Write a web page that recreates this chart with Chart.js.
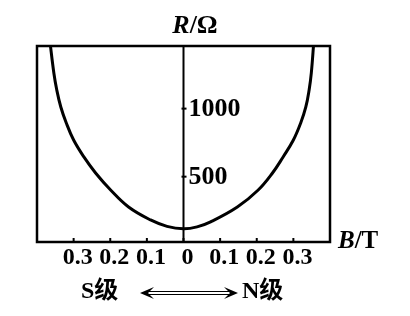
<!DOCTYPE html>
<html lang="zh">
<head>
    <meta charset="UTF-8">
    <title>R-B curve</title>
    <script src="https://cdn.jsdelivr.net/npm/chart.js"></script>
    <style>
        html, body { margin: 0; padding: 0; background: #fff; }
        #wrap { width: 410px; height: 316px; }
    </style>
</head>
<body>
    <div id="wrap"><canvas id="rbChart"></canvas></div>

    <script>
        // magnetic field B (T), negative = S side, positive = N side
        const bValues = [-0.365, -0.354, -0.346, -0.335, -0.320, -0.300, -0.272, -0.240, -0.199, -0.150, -0.090, -0.045, 0,
                         0.037, 0.074, 0.147, 0.204, 0.243, 0.272, 0.300, 0.320, 0.334, 0.343, 0.349, 0.356];
        // resistance R (ohm)
        const rValues = [1500, 1262, 1137, 1012, 894, 769, 645, 527, 402, 277, 182, 135, 117,
                         131, 168, 277, 402, 527, 645, 769, 894, 1012, 1137, 1262, 1500];

        const xTickValues = [-0.3, -0.2, -0.1, 0, 0.1, 0.2, 0.3];
        const xTickLabels = ['0.3', '0.2', '0.1', '0', '0.1', '0.2', '0.3'];
        const yTickValues = [500, 1000];
        const yTickLabels = ['500', '1000'];

        const points = bValues.map((b, i) => ({ x: b, y: rValues[i] }));

        const serifBold = "'Liberation Serif', 'Times New Roman', 'Noto Sans CJK SC', serif";

        // frame, centre axis, ticks and labels
        const framePlugin = {
            id: 'framePlugin',
            afterDraw(chart) {
                const ctx = chart.ctx;
                const a = chart.chartArea;
                const xs = chart.scales.x;
                const ys = chart.scales.y;
                const x0 = xs.getPixelForValue(0);

                ctx.save();
                ctx.strokeStyle = '#000';
                ctx.fillStyle = '#000';

                // box
                ctx.lineWidth = 2.5;
                ctx.strokeRect(a.left, a.top, a.right - a.left, a.bottom - a.top);

                // vertical R axis at B = 0
                ctx.lineWidth = 2;
                ctx.beginPath();
                ctx.moveTo(x0, a.top);
                ctx.lineTo(x0, a.bottom);
                ctx.stroke();

                // x ticks (pointing up from the bottom edge)
                xTickValues.forEach(v => {
                    const px = xs.getPixelForValue(v);
                    ctx.beginPath();
                    ctx.moveTo(px, a.bottom);
                    ctx.lineTo(px, a.bottom - 4);
                    ctx.stroke();
                });

                // x tick labels
                ctx.font = 'bold 24px ' + serifBold;
                ctx.textAlign = 'center';
                ctx.textBaseline = 'middle';
                xTickValues.forEach((v, i) => {
                    ctx.fillText(xTickLabels[i], xs.getPixelForValue(v) + 4, a.bottom + 16);
                });

                // y ticks and labels right of the axis
                ctx.font = 'bold 26px ' + serifBold;
                ctx.textAlign = 'left';
                yTickValues.forEach((v, i) => {
                    const py = ys.getPixelForValue(v);
                    ctx.beginPath();
                    ctx.moveTo(x0 - 2, py);
                    ctx.lineTo(x0 + 3, py);
                    ctx.stroke();
                    ctx.fillText(yTickLabels[i], x0 + 5, py + 1);
                });

                // axis titles
                ctx.font = 'italic bold 26px ' + serifBold;
                let w = ctx.measureText('R').width;
                ctx.font = 'bold 26px ' + serifBold;
                const w2 = ctx.measureText('/Ω').width;
                const sx = 195 - (w + w2) / 2;
                ctx.font = 'italic bold 26px ' + serifBold;
                ctx.fillText('R', sx, 26);
                ctx.font = 'bold 26px ' + serifBold;
                ctx.fillText('/Ω', sx + w, 26);

                ctx.font = 'italic bold 25px ' + serifBold;
                ctx.fillText('B', 338, 242);
                w = ctx.measureText('B').width;
                ctx.font = 'bold 25px ' + serifBold;
                ctx.fillText('/T', 338 + w, 242);

                // S / N pole labels with double arrow
                ctx.font = 'bold 24px ' + serifBold;
                ctx.fillText('S级', 81, 292);
                ctx.fillText('N级', 242, 292);

                const ax1 = 140, ax2 = 238, ay = 293;
                ctx.lineWidth = 1;
                ctx.beginPath();
                ctx.moveTo(ax1 + 6, ay - 1.5);
                ctx.lineTo(ax2 - 6, ay - 1.5);
                ctx.moveTo(ax1 + 6, ay + 1.5);
                ctx.lineTo(ax2 - 6, ay + 1.5);
                ctx.stroke();
                // heads
                ctx.beginPath();
                ctx.moveTo(ax1, ay);
                ctx.lineTo(ax1 + 14, ay - 6);
                ctx.lineTo(ax1 + 8, ay);
                ctx.lineTo(ax1 + 14, ay + 6);
                ctx.closePath();
                ctx.fill();
                ctx.beginPath();
                ctx.moveTo(ax2, ay);
                ctx.lineTo(ax2 - 14, ay - 6);
                ctx.lineTo(ax2 - 8, ay);
                ctx.lineTo(ax2 - 14, ay + 6);
                ctx.closePath();
                ctx.fill();

                ctx.restore();
            }
        };

        const ctx = document.getElementById('rbChart').getContext('2d');
        const rbChart = new Chart(ctx, {
            type: 'scatter',
            data: {
                datasets: [{
                    data: points,
                    showLine: true,
                    borderColor: '#000',
                    borderWidth: 3,
                    pointRadius: 0,
                    tension: 0.4,
                    fill: false
                }]
            },
            options: {
                responsive: true,
                maintainAspectRatio: false,
                animation: false,
                layout: {
                    padding: { left: 37, right: 80, top: 46, bottom: 74 }
                },
                plugins: {
                    legend: { display: false },
                    tooltip: { enabled: false }
                },
                scales: {
                    x: { type: 'linear', min: -0.4, max: 0.4, display: false },
                    y: { type: 'linear', min: 20, max: 1460, display: false }
                }
            },
            plugins: [framePlugin]
        });
    </script>
</body>
</html>
